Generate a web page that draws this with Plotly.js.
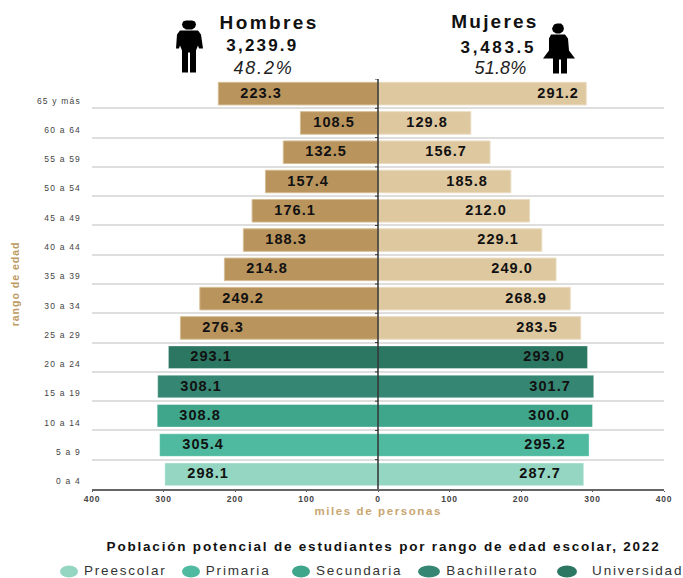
<!DOCTYPE html>
<html><head><meta charset="utf-8">
<script src="https://cdn.plot.ly/plotly-3.0.1.min.js"></script>
<style>
html,body{margin:0;padding:0;background:#fff}
.xtick text{letter-spacing:.7px}
.ytick text{letter-spacing:1.2px}
.ytitle{letter-spacing:1px}
</style></head><body>
<div id="chart" style="width:683px;height:578px"></div>
<script>
const ageGroups=["0 a 4","5 a 9","10 a 14","15 a 19","20 a 24","25 a 29","30 a 34","35 a 39","40 a 44","45 a 49","50 a 54","55 a 59","60 a 64","65 y más"];
const hombres=[298.1,305.4,308.8,308.1,293.1,276.3,249.2,214.8,188.3,176.1,157.4,132.5,108.5,223.3];
const mujeres=[287.7,295.2,300.0,301.7,293.0,283.5,268.9,249.0,229.1,212.0,185.8,156.7,129.8,291.2];
const xTickValues=[-400,-300,-200,-100,0,100,200,300,400];
const xTickLabels=["400","300","200","100","0","100","200","300","400"];
const legendNames=["Preescolar","Primaria","Secundaria","Bachillerato","Universidad"];
const greens=["#94D6C2","#4FBA9F","#3FA58B","#358672","#2C7762"];
const colorM=ageGroups.map((_,i)=>i<5?greens[i]:"#B9945D");
const colorF=ageGroups.map((_,i)=>i<5?greens[i]:"#DEC8A0");
const edgeM=ageGroups.map((_,i)=>i<5?"rgba(255,255,255,.35)":"#D5BE96");
const edgeF=ageGroups.map((_,i)=>i<5?"rgba(255,255,255,.35)":"#EADCC2");

const W=683,H=578,L=92,R=19,T=78.5,B=89;
const px=x=>(x-L)/(W-L-R), py=y=>1-(y-T)/(H-T-B);
const P=(x,y)=>px(x).toFixed(5)+","+py(y).toFixed(5);

const traces=[
 {type:"bar",orientation:"h",name:"Hombres",y:ageGroups,x:hombres.map(v=>-v),marker:{color:colorM,line:{color:edgeM,width:1}},hoverinfo:"skip"},
 {type:"bar",orientation:"h",name:"Mujeres",y:ageGroups,x:mujeres,marker:{color:colorF,line:{color:edgeF,width:1}},hoverinfo:"skip"}
];

const ann=[], spacing=[];
const lab={font:{family:"Liberation Sans",size:14.5,color:"#111",weight:700},showarrow:false,xref:"x",yref:"y"};
ageGroups.forEach((g,i)=>{
  ann.push({...lab,x:-hombres[i],y:g,text:hombres[i].toFixed(1),xshift:(g==="60 a 64"?34:43),yshift:1}); spacing.push(1.1);
  ann.push({...lab,x:mujeres[i],y:g,text:mujeres[i].toFixed(1),xshift:(g==="65 y más"?-28:-44),yshift:1}); spacing.push(1.1);
});
const txt=(x,y,text,size,ls,o={})=>{spacing.push(ls);ann.push({xref:"paper",yref:"paper",x:px(x),y:py(y),text,showarrow:false,
  font:{family:"Liberation Sans",size,color:o.color||"#111",weight:o.weight||400,style:o.style||"normal"},xanchor:"center",yanchor:"middle"});};
txt(269,22,"Hombres",19,2.4,{weight:700});
txt(262,45,"3,239.9",17,2.2,{weight:700});
txt(263,67,"48.2%",18,1.8,{style:"italic",color:"#222"});
txt(495,21,"Mujeres",19,2.2,{weight:700});
txt(498,47,"3,483.5",17,2.7,{weight:700});
txt(500,67,"51.8%",18,.2,{style:"italic",color:"#222"});
txt(383,547,"Población potencial de estudiantes por rango de edad escolar, 2022",13.5,1.8,{weight:700});
txt(377.5,511,"miles de personas",11.5,1.6,{weight:700,color:"#C9A672"});

const legendCenter=[125.5,238,359.5,492.5,637], legendDot=[[69,9],[191,9],[301,9],[429,11],[567,10]];
const shapes=[];
legendNames.forEach((n,i)=>{
  txt(legendCenter[i],570.5,n,13.5,1.8,{color:"#333"});
  const [cx,rx]=legendDot[i];
  shapes.push({type:"circle",xref:"paper",yref:"paper",x0:px(cx-rx),x1:px(cx+rx),y0:py(565.5),y1:py(577.5),fillcolor:greens[i],line:{width:0}});
});
shapes.push({type:"line",xref:"x",yref:"paper",x0:0,x1:0,y0:0,y1:1,line:{color:"#222",width:1.4},layer:"above"});
ageGroups.forEach((g,i)=>{ shapes.push({type:"line",xref:"x",xsizemode:"pixel",xanchor:0,x0:-3,x1:0,yref:"y",y0:i+0.5,y1:i+0.5,line:{color:"#333",width:1},layer:"above"}); });
const ic=d=>shapes.push({type:"path",path:d,xref:"paper",yref:"paper",fillcolor:"#000",line:{width:0}});
const poly=a=>"M"+a.map(p=>P(p[0],p[1])).join("L")+"Z";
ic(poly([[183,21],[186,20],[192,20],[195,21],[196,24],[195,27],[192,29],[186,29],[183,27],[182,24]]));
ic(poly([[180,30],[198,30],[201,34],[203,48],[199,48],[198,45],[196,50],[196,72],[190,72],[190,52],[188,52],[188,72],[182,72],[182,50],[180,45],[179,48],[176,48],[177,34]]));
ic(poly([[554,24],[557,23],[561,23],[563,25],[564,28],[563,31],[560,33],[556,33],[553,31],[552,28]]));
ic(poly([[551,34],[565,34],[568,38],[569,50],[575,58],[567,58],[567,73],[561,73],[561,59],[559,59],[559,73],[553,73],[553,58],[543,58],[549,50],[549,38]]));

const layout={
 width:W,height:H,margin:{l:L,r:R,t:T,b:B,pad:0},paper_bgcolor:"#fff",plot_bgcolor:"#fff",
 barmode:"overlay",bargap:0.23,showlegend:false,
 font:{family:"Liberation Sans"},
 xaxis:{range:[-400,400],tickvals:xTickValues,ticktext:xTickLabels,ticks:"outside",ticklen:1,tickcolor:"#555",tickwidth:1,
   showline:true,linecolor:"#666",linewidth:1.5,showgrid:false,zeroline:false,fixedrange:true,
   tickfont:{size:8.5,color:"#444",family:"Liberation Sans",weight:700}},
 yaxis:{type:"category",categoryorder:"array",categoryarray:ageGroups,range:[-0.5,13.5],tickson:"boundaries",ticks:"",showgrid:true,gridcolor:"#DEDEDE",gridwidth:2,
   zeroline:false,showline:false,fixedrange:true,ticklabelshift:7,ticklabelstandoff:10,
   tickfont:{size:8.5,color:"#444",family:"Liberation Sans"},
   title:{text:"rango de edad",font:{size:10.5,color:"#BC9A62",weight:700,family:"Liberation Sans"},standoff:15}},
 annotations:ann,shapes
};
Plotly.newPlot("chart",traces,layout,{displayModeBar:false,staticPlot:true}).then(()=>{
  document.querySelectorAll(".annotation").forEach(a=>{
    const i=+a.getAttribute("data-index");
    a.querySelectorAll("text").forEach(t=>t.style.letterSpacing=spacing[i]+"px");
  });
});
</script></body></html>
